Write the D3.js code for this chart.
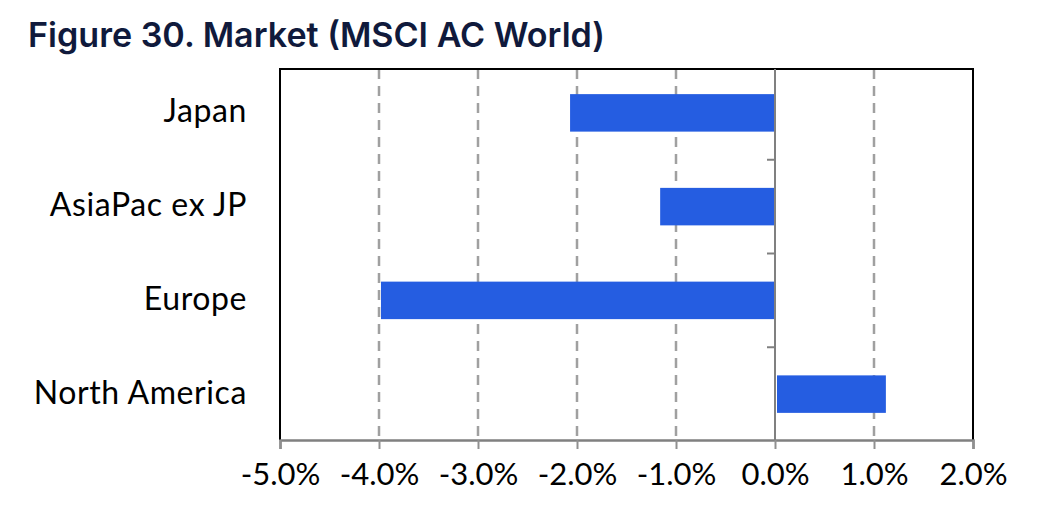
<!DOCTYPE html>
<html><head><meta charset="utf-8">
<script src="https://cdn.jsdelivr.net/npm/d3@7"></script>
<style>body{margin:0;background:#fff}svg{display:block}</style>
</head><body>
<svg id="c" width="1058" height="511"></svg>
<script>
const title = "Figure 30. Market (MSCI AC World)";
const categories = ["Japan", "AsiaPac ex JP", "Europe", "North America"];
const values = [-2.07, -1.16, -3.98, 1.12];
const ticks = [-5, -4, -3, -2, -1, 0, 1, 2];
const tickLabels = ["-5.0%", "-4.0%", "-3.0%", "-2.0%", "-1.0%", "0.0%", "1.0%", "2.0%"];

const svg = d3.select("#c");
const L = 280, R = 973, T = 69, B = 440;
const x = d3.scaleLinear().domain([-5, 2]).range([L, R]);
const y = d3.scaleBand().domain(categories).range([66, 441]).paddingInner(0.6).paddingOuter(0.3);

svg.append("text").attr("x", 28).attr("y", 47)
  .attr("font-family", "Inter").attr("font-weight", 600).attr("font-size", 34)
  .attr("textLength", 577).attr("lengthAdjust", "spacingAndGlyphs")
  .attr("fill", "#101a3c").text(title);

// gridlines
svg.append("g").selectAll("line").data(ticks.filter(t => t !== 0 && t !== -5 && t !== 2)).join("line")
  .attr("x1", d => x(d)).attr("x2", d => x(d)).attr("y1", T).attr("y2", B)
  .attr("stroke", "#a0a0a0").attr("stroke-width", 2.5).attr("stroke-dasharray", "10,7");

// bars
svg.append("g").selectAll("rect").data(categories).join("rect")
  .attr("x", (d, i) => Math.min(x(0), x(values[i])) + (values[i] > 0 ? 2 : 0))
  .attr("width", (d, i) => Math.abs(x(values[i]) - x(0)) - (values[i] > 0 ? 2 : 0))
  .attr("y", d => y(d)).attr("height", y.bandwidth())
  .attr("fill", "#255de1");

// border (top, left, right)
svg.append("path").attr("d", `M${L},${B}V${T}H${R}V${B}`)
  .attr("fill", "none").attr("stroke", "#000").attr("stroke-width", 2);

// zero axis with category boundary ticks
const yAxis = svg.append("g").attr("transform", `translate(${x(0)},0)`);
yAxis.append("line").attr("y1", T).attr("y2", B).attr("stroke", "#808080").attr("stroke-width", 2);
const bounds = d3.range(1, categories.length).map(i => y(categories[i]) - y.step() * y.paddingInner() / 2);
yAxis.selectAll("line.t").data(bounds).join("line").attr("class", "t")
  .attr("x1", -8).attr("x2", 0).attr("y1", d => d).attr("y2", d => d)
  .attr("stroke", "#808080").attr("stroke-width", 2);

// bottom axis
const xAxis = d3.axisBottom(x).tickValues(ticks).tickFormat((d, i) => tickLabels[i]).tickSize(9).tickPadding(14);
const gx = svg.append("g").attr("transform", `translate(0,${B})`).call(xAxis);
gx.select(".domain").attr("stroke", "#808080").attr("stroke-width", 2.5);
gx.selectAll(".tick line").attr("stroke", "#909090").attr("stroke-width", 2);
gx.selectAll(".tick text").attr("font-family", "Lato").attr("font-size", 31).attr("fill", "#000");

// category labels
svg.append("g").selectAll("text").data(categories).join("text")
  .attr("x", 247).attr("y", d => y(d) + y.bandwidth() / 2)
  .attr("dy", "0.3em").attr("text-anchor", "end")
  .attr("font-family", "Lato").attr("font-size", 32).attr("letter-spacing", 0.6)
  .attr("fill", "#000").text(d => d);
</script>
</body></html>
